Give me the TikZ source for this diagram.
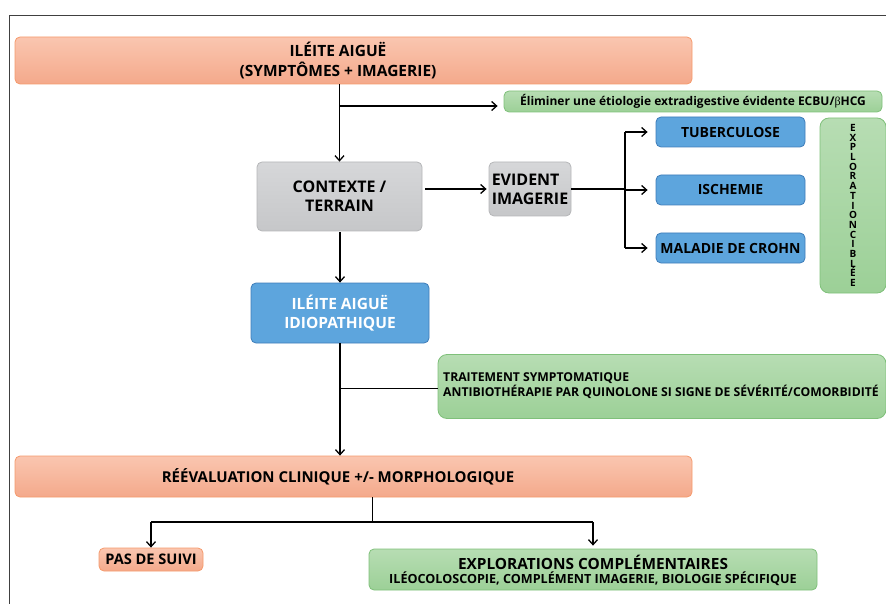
\documentclass[tikz,border=0pt]{standalone}
\usepackage{fontspec}
\setmainfont{Open Sans}
\newfontfamily\betafont{Liberation Serif}
\usetikzlibrary{arrows.meta,calc}
\definecolor{orT}{HTML}{FAC6B0}
\definecolor{orB}{HTML}{F4A98B}
\definecolor{orD}{HTML}{F59A6C}
\definecolor{grT}{HTML}{B7DDB3}
\definecolor{grB}{HTML}{9CD097}
\definecolor{grD}{HTML}{7FC07A}
\definecolor{gyT}{HTML}{D6D7D9}
\definecolor{gyB}{HTML}{C6C7C9}
\definecolor{gyD}{HTML}{B5B6B8}
\definecolor{blF}{HTML}{5DA5DD}
\definecolor{blD}{HTML}{3E7DB9}
\definecolor{frame}{HTML}{404040}
\newcommand\fs[2]{\bfseries\fontsize{#1}{#2}\selectfont}
\tikzset{
  box/.style={rounded corners=5pt, line width=0.8pt, inner sep=0pt},
  orbox/.style={box, draw=orD, top color=orT, bottom color=orB},
  grbox/.style={box, draw=grD, top color=grT, bottom color=grB},
  gybox/.style={box, draw=gyD, top color=gyT, bottom color=gyB},
  blbox/.style={box, draw=blD, fill=blF},
  lbl/.style={align=center, inner sep=0pt},
  arr/.style={line width=1.3pt, -{Straight Barb[length=5pt,width=9pt,line width=1.3pt]}},
  ln/.style={line width=1.3pt},
  thin/.style={line width=0.9pt}
}
\begin{document}
\begin{tikzpicture}[x=1pt,y=-1pt]
\useasboundingbox (0,0) rectangle (886,604);
% frame
\draw[frame, line width=0.8pt] (9,604) -- (9,15) -- (886,15);
% boxes
\node[orbox, minimum width=677pt, minimum height=47pt] (top) at (353.5,60.5) {};
\node[lbl, font=\fs{15.5}{20}] (toptxt) at (338,61) {ILÉITE AIGUË\\(SYMPTÔMES + IMAGERIE)};
\node[grbox, minimum width=378pt, minimum height=21pt, font=\fs{12}{14}] (elim) at (693,101.5)
  {Éliminer une étiologie extradigestive évidente ECBU/{\betafont\mdseries β}HCG};
\node[gybox, minimum width=165pt, minimum height=69pt, align=center, font=\fs{16}{19}] (ctx) at (339.5,196.5)
  {CONTEXTE /\\TERRAIN};
\node[gybox, minimum width=82pt, minimum height=54pt, align=left, font=\fs{16}{19}] (ev) at (530,189)
  {EVIDENT\\IMAGERIE};
\node[blbox, minimum width=149pt, minimum height=30pt, font=\fs{14}{16}] (tub) at (730.5,132) {TUBERCULOSE};
\node[blbox, minimum width=149pt, minimum height=30pt, font=\fs{14}{16}] (isch) at (730.5,190) {ISCHEMIE};
\node[blbox, minimum width=149pt, minimum height=30pt, font=\fs{14}{16}] (mal) at (730.5,248) {MALADIE DE CROHN};
\node[grbox, rounded corners=9pt, minimum width=66pt, minimum height=175pt, align=center, font=\fs{10}{9.7}] (expl) at (853,205.5)
  {E\\X\\P\\L\\O\\R\\A\\T\\I\\O\\N\\C\\I\\B\\L\\É\\E};
\node[blbox, minimum width=178pt, minimum height=60pt, align=center, text=white, font=\fs{15.5}{19}] (idio) at (340,313)
  {ILÉITE AIGUË\\IDIOPATHIQUE};
\node[grbox, rounded corners=9pt, minimum width=448pt, minimum height=64pt] (treat) at (662,386.5) {};
\node[lbl, align=left, anchor=west, font=\fs{12.2}{15}] (treattxt) at (443,386)
  {TRAITEMENT SYMPTOMATIQUE\\ANTIBIOTHÉRAPIE PAR QUINOLONE SI SIGNE DE SÉVÉRITÉ/COMORBIDITÉ};
\node[orbox, minimum width=677pt, minimum height=41pt] (reev) at (353.5,476.5) {};
\node[lbl, font=\fs{15}{17}] (reevtxt) at (338,476.5) {RÉÉVALUATION CLINIQUE +/- MORPHOLOGIQUE};
\node[orbox, minimum width=104pt, minimum height=23pt, font=\fs{14.6}{16}] (pas) at (151,559.5) {PAS DE SUIVI};
\node[grbox, minimum width=448pt, minimum height=41pt] (comp) at (593,569.5) {};
\node[lbl, font=\fs{15.4}{17}] (comp1) at (593,562) {EXPLORATIONS COMPLÉMENTAIRES};
\node[lbl, font=\fs{12.6}{14}] (comp2) at (593,579) {ILÉOCOLOSCOPIE, COMPLÉMENT IMAGERIE, BIOLOGIE SPÉCIFIQUE};
% connectors
\coordinate (b1) at (340,106);
\draw[arr] (top.south -| ctx.north) -- (ctx.north);
\draw[arr, shorten >=6pt] (b1) -- (b1 -| elim.west);
\draw[arr, shorten <=3pt, shorten >=2pt] (ctx.east |- ev.west) -- (ev.west);
\coordinate (j) at (625,189);
\draw[ln] (ev.east) -- (j);
\draw[ln] (j |- tub.west) -- (j |- mal.west);
\draw[arr, shorten >=8pt] (j |- tub.west) -- (tub.west);
\draw[arr, shorten >=8pt] (j |- isch.west) -- (isch.west);
\draw[arr, shorten >=8pt] (j |- mal.west) -- (mal.west);
\draw[arr, shorten <=1pt] (ctx.south -| idio.north) -- (idio.north);
\draw[arr] (idio.south) -- (reev.north -| idio.south);
\coordinate (b2) at (340,388);
\draw[thin] (b2) -- (b2 -| treat.west);
\coordinate (b3) at (372,522);
\draw[thin] (reev.south -| b3) -- (b3);
\draw[ln] (b3 -| pas.north) -- (b3 -| comp.north);
\draw[arr] (b3 -| pas.north) -- (pas.north);
\draw[arr, shorten >=3pt] (b3 -| comp.north) -- (comp.north);
\end{tikzpicture}
\end{document}
